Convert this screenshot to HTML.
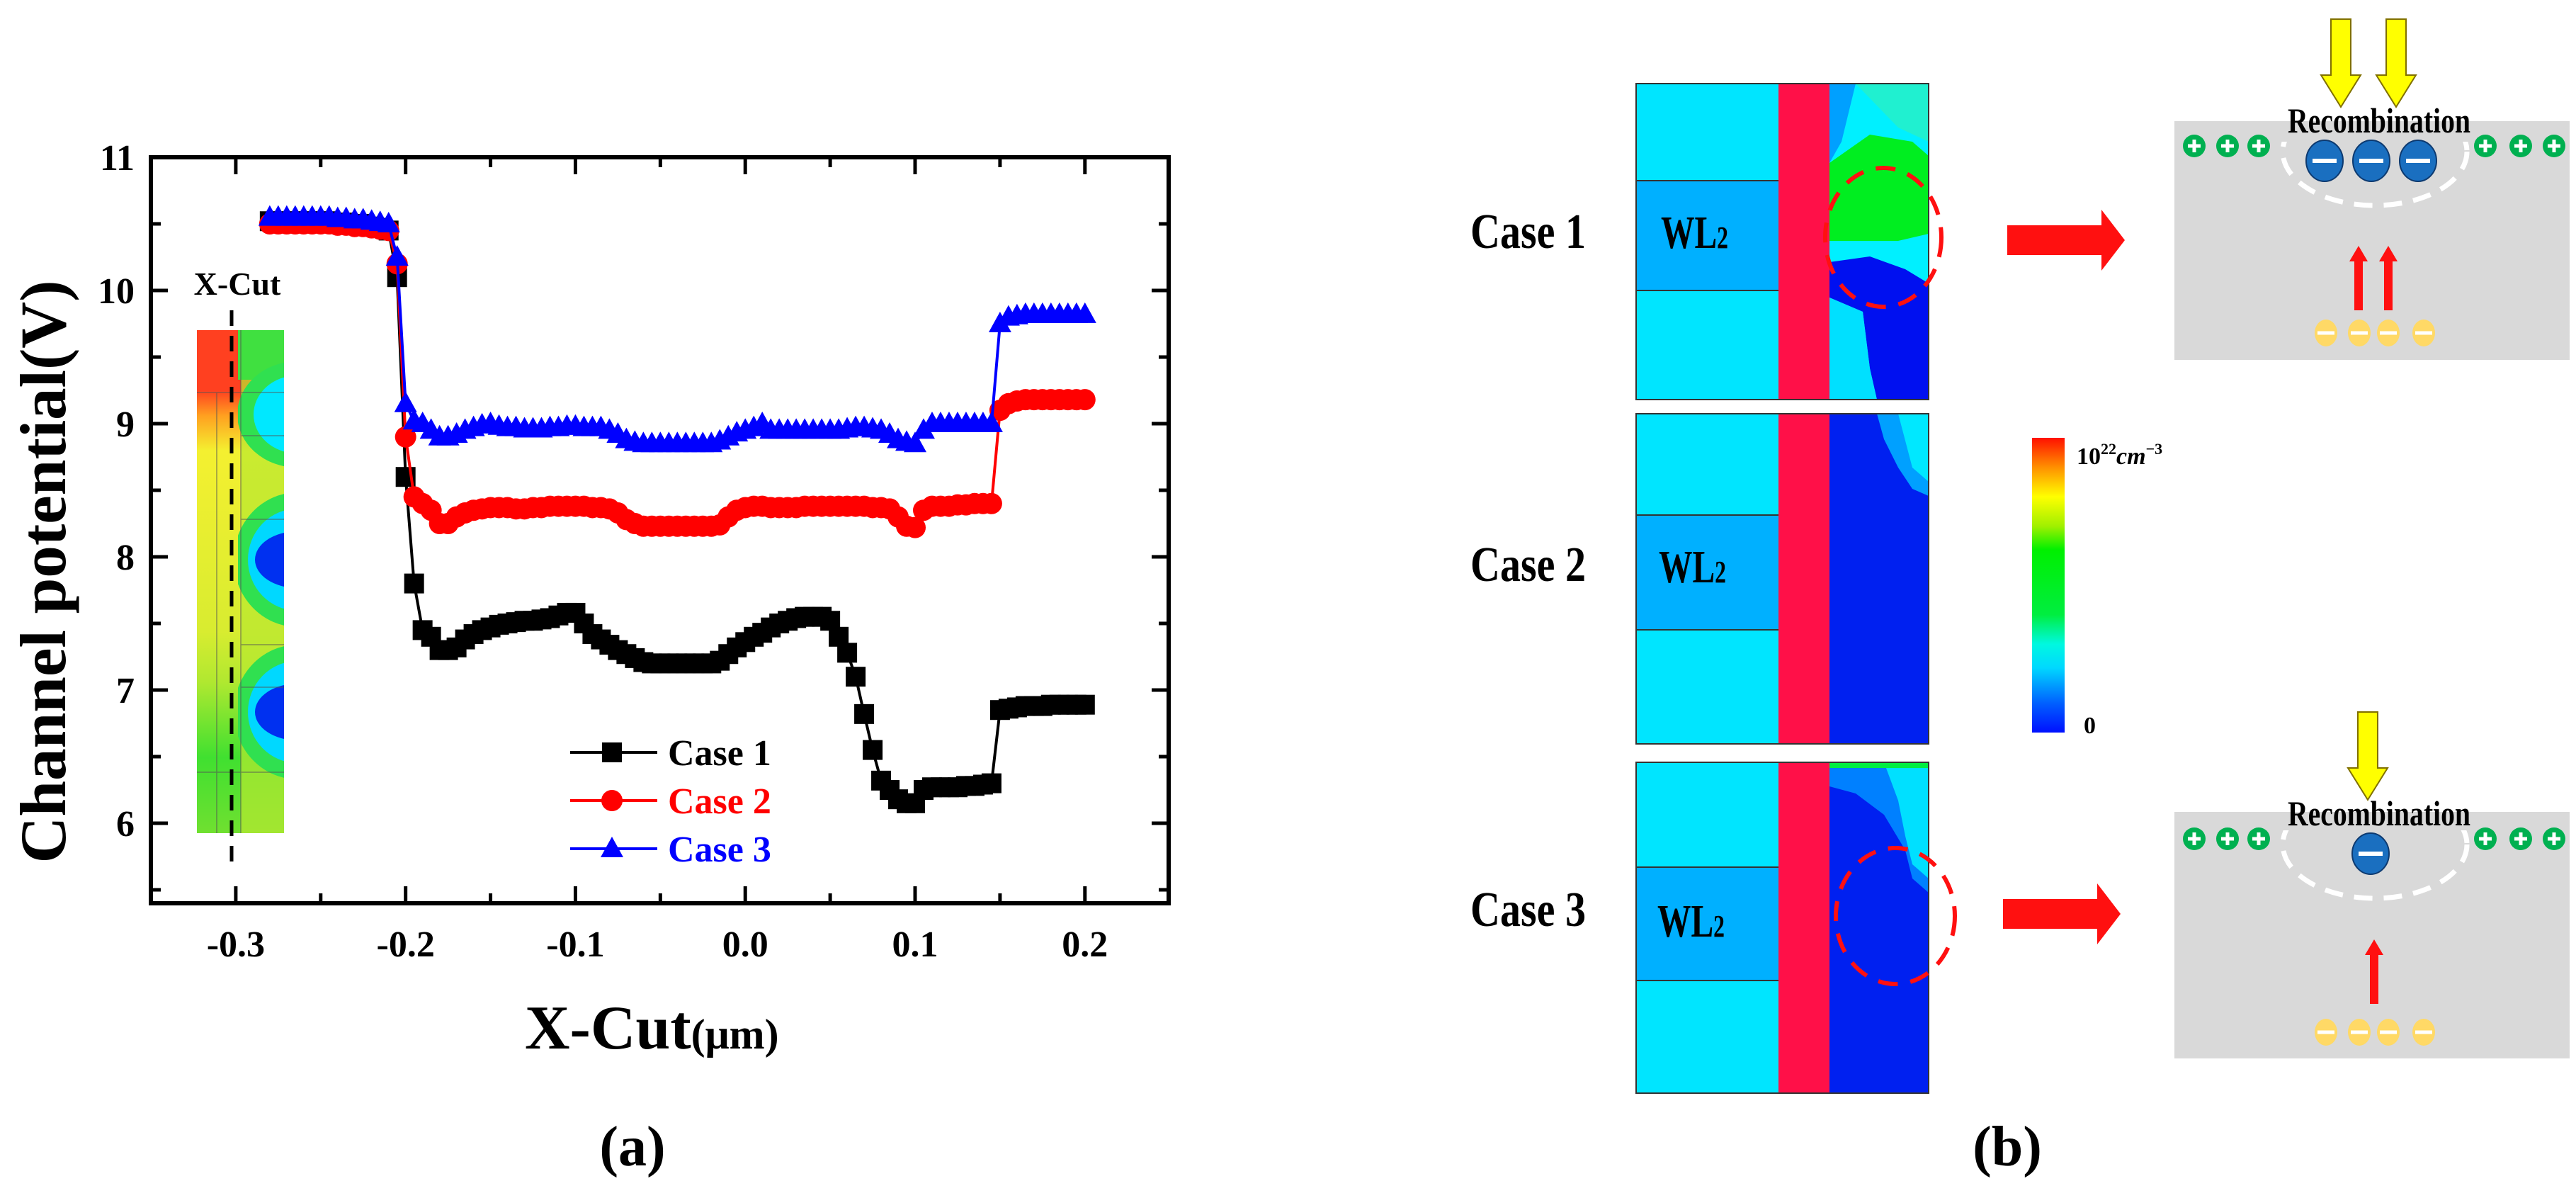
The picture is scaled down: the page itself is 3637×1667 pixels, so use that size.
<!DOCTYPE html>
<html><head><meta charset="utf-8"><style>
html,body{margin:0;padding:0;background:#fff}
svg{display:block}
text{font-family:"Liberation Serif",serif;font-weight:bold}
</style></head><body>
<svg id="fig" width="3637" height="1667" viewBox="0 0 3637 1667" xmlns="http://www.w3.org/2000/svg">
<rect width="3637" height="1667" fill="#fff"/>
<!-- Panel (a) -->
<g id="panelA">
  <g id="inset">
    <defs>
      <clipPath id="insetClip"><rect x="278" y="466" width="123" height="710"/></clipPath>
      <clipPath id="rightColClip"><rect x="336" y="466" width="65" height="710"/></clipPath>
      <linearGradient id="leftcol" x1="0" y1="0" x2="0" y2="1">
        <stop offset="0" stop-color="#ff4020"/><stop offset="0.12" stop-color="#ff4020"/>
        <stop offset="0.17" stop-color="#ffa020"/><stop offset="0.24" stop-color="#f4f030"/>
        <stop offset="0.6" stop-color="#d8ec30"/><stop offset="0.7" stop-color="#b0e830"/>
        <stop offset="0.85" stop-color="#40e030"/><stop offset="1" stop-color="#70e030"/>
      </linearGradient>
    </defs>
    <g clip-path="url(#insetClip)">
      <rect x="278" y="466" width="123" height="710" fill="url(#leftcol)"/>
      <rect x="340" y="466" width="61" height="710" fill="#b8e830" opacity="0.7"/>
    </g>
    <g clip-path="url(#rightColClip)">
      <rect x="336" y="466" width="65" height="70" fill="#40e040"/>
      <ellipse cx="420" cy="585" rx="85" ry="75" fill="#30e050"/>
      <ellipse cx="420" cy="585" rx="62" ry="55" fill="#00e8ff"/>
      <ellipse cx="420" cy="790" rx="90" ry="95" fill="#30e050"/>
      <ellipse cx="420" cy="790" rx="70" ry="72" fill="#00d8ff"/>
      <ellipse cx="420" cy="790" rx="60" ry="40" fill="#0030f0"/>
      <ellipse cx="420" cy="1005" rx="90" ry="95" fill="#30e050"/>
      <ellipse cx="420" cy="1005" rx="70" ry="72" fill="#00d8ff"/>
      <ellipse cx="420" cy="1005" rx="60" ry="40" fill="#0030f0"/>
    </g>
    <g stroke="#555" stroke-width="1.5" fill="none" opacity="0.6">
      <line x1="306" y1="554" x2="306" y2="1176"/><line x1="340" y1="466" x2="340" y2="1176"/>
      <line x1="278" y1="554" x2="401" y2="554"/><line x1="340" y1="615" x2="401" y2="615"/>
      <line x1="340" y1="733" x2="401" y2="733"/><line x1="340" y1="910" x2="401" y2="910"/>
      <line x1="340" y1="970" x2="401" y2="970"/><line x1="278" y1="1090" x2="401" y2="1090"/>
    </g>
    <line x1="327" y1="438" x2="327" y2="1224" stroke="#000" stroke-width="5" stroke-dasharray="22,14"/>
    <text x="335" y="416" font-size="46" text-anchor="middle">X-Cut</text>
  </g>
  <g id="axes"></g>
  <g id="series"></g>
  <rect x="213" y="222" width="1437" height="1053" fill="none" stroke="#000" stroke-width="6"/>
  <text transform="translate(92,807) rotate(-90)" font-size="92" text-anchor="middle" textLength="823" lengthAdjust="spacingAndGlyphs">Channel potential(V)</text>
  <text x="741" y="1480" font-size="88">X-Cut<tspan font-size="60">(μm)</tspan></text>
  <text x="893" y="1645" font-size="80" text-anchor="middle" font-weight="normal">(<tspan font-weight="bold">a</tspan>)</text>
  <g id="legend"></g>
</g>

<!-- Panel (b) -->
<g id="panelB">
  <defs>
    <clipPath id="c1"><rect x="2583" y="118" width="140" height="446"/></clipPath>
    <clipPath id="c2"><rect x="2583" y="584" width="140" height="466"/></clipPath>
    <clipPath id="c3"><rect x="2583" y="1076" width="140" height="467"/></clipPath>
    <clipPath id="ell1"><rect x="3150" y="200" width="400" height="200"/></clipPath>
    <clipPath id="ell3"><rect x="3150" y="1172" width="400" height="200"/></clipPath>
    <linearGradient id="cbar" x1="0" y1="1" x2="0" y2="0">
      <stop offset="0" stop-color="#0010ff"/><stop offset="0.1" stop-color="#0060ff"/>
      <stop offset="0.22" stop-color="#00d8ff"/><stop offset="0.3" stop-color="#00f8e0"/>
      <stop offset="0.4" stop-color="#00ee40"/><stop offset="0.62" stop-color="#00f000"/>
      <stop offset="0.7" stop-color="#a0f000"/><stop offset="0.8" stop-color="#ffff00"/>
      <stop offset="0.9" stop-color="#ff9000"/><stop offset="1" stop-color="#ff1000"/>
    </linearGradient>
  </defs>
  <g>
    <rect x="2310" y="118" width="201" height="446" fill="#00e5ff"/>
    <rect x="2310" y="255" width="201" height="155" fill="#00b0ff"/>
    <line x1="2310" y1="255" x2="2511" y2="255" stroke="#333" stroke-width="2"/>
    <line x1="2310" y1="410" x2="2511" y2="410" stroke="#333" stroke-width="2"/>
    <rect x="2511" y="118" width="72" height="446" fill="#ff1048"/>
    <g clip-path="url(#c1)">
      <rect x="2583" y="118" width="140" height="446" fill="#00f0ff"/>
      <polygon points="2583,118 2620,118 2600,200 2583,230" fill="#00a0ff"/>
      <polygon points="2620,118 2723,118 2723,200 2680,180" fill="#20f0d0"/>
      <polygon points="2583,230 2640,190 2700,200 2723,220 2723,330 2680,340 2583,340" fill="#00ee20"/>
      <polygon points="2583,370 2640,362 2690,380 2723,400 2723,564 2650,564 2640,520 2630,440 2583,420" fill="#0010f0"/>
      <polygon points="2583,420 2630,440 2640,520 2650,564 2583,564" fill="#00e0ff"/>
    </g>
    <rect x="2310" y="118" width="413" height="446" fill="none" stroke="#333" stroke-width="2"/>
    <ellipse cx="2659" cy="335" rx="82" ry="98" fill="none" stroke="#ff1010" stroke-width="6" stroke-dasharray="28,18"/>
  </g>
  <g>
    <rect x="2310" y="584" width="201" height="466" fill="#00e5ff"/>
    <rect x="2310" y="727" width="201" height="162" fill="#00b0ff"/>
    <line x1="2310" y1="727" x2="2511" y2="727" stroke="#333" stroke-width="2"/>
    <line x1="2310" y1="889" x2="2511" y2="889" stroke="#333" stroke-width="2"/>
    <rect x="2511" y="584" width="72" height="466" fill="#ff1048"/>
    <g clip-path="url(#c2)">
      <rect x="2583" y="584" width="140" height="466" fill="#0020f0"/>
      <polygon points="2650,584 2723,584 2723,700 2700,690 2680,660 2660,620" fill="#00a0ff"/>
      <polygon points="2680,584 2723,584 2723,680 2700,660" fill="#00e8ff"/>
    </g>
    <rect x="2310" y="584" width="413" height="466" fill="none" stroke="#333" stroke-width="2"/>
  </g>
  <g>
    <rect x="2310" y="1076" width="201" height="467" fill="#00e5ff"/>
    <rect x="2310" y="1224" width="201" height="160" fill="#00b0ff"/>
    <line x1="2310" y1="1224" x2="2511" y2="1224" stroke="#333" stroke-width="2"/>
    <line x1="2310" y1="1384" x2="2511" y2="1384" stroke="#333" stroke-width="2"/>
    <rect x="2511" y="1076" width="72" height="467" fill="#ff1048"/>
    <g clip-path="url(#c3)">
      <rect x="2583" y="1076" width="140" height="467" fill="#0020f0"/>
      <polygon points="2583,1076 2723,1076 2723,1260 2700,1240 2690,1200 2660,1150 2620,1120 2583,1110" fill="#0080ff"/>
      <polygon points="2660,1076 2723,1076 2723,1240 2700,1220 2690,1180 2680,1130" fill="#00e0ff"/>
      <rect x="2583" y="1076" width="140" height="8" fill="#00ee40"/>
    </g>
    <rect x="2310" y="1076" width="413" height="467" fill="none" stroke="#333" stroke-width="2"/>
    <ellipse cx="2676" cy="1293" rx="84" ry="96" fill="none" stroke="#ff1010" stroke-width="6" stroke-dasharray="28,18"/>
  </g>
  <g font-size="70">
    <text x="2076" y="350" textLength="163" lengthAdjust="spacingAndGlyphs">Case 1</text>
    <text x="2076" y="820" textLength="163" lengthAdjust="spacingAndGlyphs">Case 2</text>
    <text x="2076" y="1307" textLength="163" lengthAdjust="spacingAndGlyphs">Case 3</text>
  </g>
  <g font-size="66">
    <text x="2345" y="350" textLength="95" lengthAdjust="spacingAndGlyphs">WL<tspan font-size="44">2</tspan></text>
    <text x="2342" y="822" textLength="95" lengthAdjust="spacingAndGlyphs">WL<tspan font-size="44">2</tspan></text>
    <text x="2340" y="1322" textLength="95" lengthAdjust="spacingAndGlyphs">WL<tspan font-size="44">2</tspan></text>
  </g>
  <g>
    <rect x="2869" y="618" width="46" height="416" fill="url(#cbar)"/>
    <text x="2932" y="655" font-size="34" font-weight="normal">10<tspan dy="-14" font-size="22">22</tspan><tspan dy="14" font-style="italic" font-size="34">cm</tspan><tspan dy="-14" font-size="22">−3</tspan></text>
    <text x="2942" y="1035" font-size="34" font-weight="normal">0</text>
  </g>
  <polygon points="2834,318 2967,318 2967,296 3000,339 2967,382 2967,360 2834,360" fill="#ff1010"/>
  <polygon points="2828,1269 2961,1269 2961,1247 2994,1290 2961,1333 2961,1311 2828,1311" fill="#ff1010"/>
  <g id="sch1"></g>
  <g id="sch3"></g>
  <text x="2834" y="1645" font-size="80" text-anchor="middle" font-weight="normal">(<tspan font-weight="bold">b</tspan>)</text>
</g>
</svg>
<script>
const xs = [-0.280,-0.275,-0.270,-0.265,-0.260,-0.255,-0.250,-0.245,-0.240,-0.235,-0.230,-0.225,-0.220,-0.215,-0.210,-0.205,-0.200,-0.195,-0.190,-0.185,-0.180,-0.175,-0.170,-0.165,-0.160,-0.155,-0.150,-0.145,-0.140,-0.135,-0.130,-0.125,-0.120,-0.115,-0.110,-0.105,-0.100,-0.095,-0.090,-0.085,-0.080,-0.075,-0.070,-0.065,-0.060,-0.055,-0.050,-0.045,-0.040,-0.035,-0.030,-0.025,-0.020,-0.015,-0.010,-0.005,0.000,0.005,0.010,0.015,0.020,0.025,0.030,0.035,0.040,0.045,0.050,0.055,0.060,0.065,0.070,0.075,0.080,0.085,0.090,0.095,0.100,0.105,0.110,0.115,0.120,0.125,0.130,0.135,0.140,0.145,0.150,0.155,0.160,0.165,0.170,0.175,0.180,0.185,0.190,0.195,0.200];
const case1 = [10.52,10.52,10.52,10.52,10.52,10.52,10.52,10.52,10.51,10.51,10.50,10.50,10.48,10.47,10.45,10.10,8.60,7.80,7.45,7.40,7.30,7.30,7.32,7.38,7.42,7.45,7.47,7.49,7.50,7.51,7.52,7.52,7.53,7.54,7.56,7.58,7.58,7.50,7.42,7.38,7.34,7.30,7.27,7.24,7.21,7.20,7.20,7.20,7.20,7.20,7.20,7.20,7.20,7.22,7.27,7.32,7.36,7.40,7.43,7.47,7.50,7.52,7.54,7.55,7.55,7.55,7.52,7.40,7.28,7.10,6.82,6.55,6.32,6.25,6.18,6.15,6.15,6.25,6.27,6.27,6.27,6.27,6.28,6.28,6.29,6.30,6.85,6.86,6.87,6.88,6.88,6.88,6.89,6.89,6.89,6.89,6.89];
const case2 = [10.50,10.50,10.50,10.50,10.50,10.50,10.50,10.50,10.49,10.49,10.48,10.48,10.47,10.46,10.45,10.20,8.90,8.45,8.40,8.35,8.25,8.25,8.30,8.33,8.35,8.36,8.37,8.37,8.37,8.36,8.36,8.37,8.37,8.38,8.38,8.38,8.38,8.38,8.37,8.37,8.36,8.33,8.28,8.25,8.23,8.23,8.23,8.23,8.23,8.23,8.23,8.23,8.23,8.24,8.30,8.35,8.37,8.38,8.38,8.37,8.37,8.37,8.37,8.38,8.38,8.38,8.38,8.38,8.38,8.38,8.38,8.37,8.37,8.36,8.30,8.23,8.22,8.35,8.38,8.38,8.38,8.39,8.39,8.40,8.40,8.40,9.10,9.15,9.17,9.18,9.18,9.18,9.18,9.18,9.18,9.18,9.18];
const case3 = [10.55,10.55,10.55,10.55,10.55,10.55,10.55,10.55,10.54,10.54,10.53,10.53,10.52,10.51,10.50,10.25,9.15,9.02,9.00,8.95,8.90,8.90,8.92,8.95,8.97,8.99,9.00,8.98,8.97,8.97,8.96,8.96,8.96,8.97,8.97,8.98,8.98,8.97,8.97,8.97,8.95,8.92,8.88,8.86,8.85,8.85,8.85,8.85,8.85,8.85,8.85,8.85,8.85,8.87,8.90,8.93,8.95,8.97,9.00,8.95,8.95,8.95,8.95,8.95,8.95,8.95,8.95,8.95,8.96,8.97,8.97,8.96,8.95,8.92,8.88,8.86,8.85,8.95,9.00,9.00,9.00,9.00,9.00,9.00,9.00,9.00,9.75,9.80,9.81,9.82,9.82,9.82,9.82,9.82,9.82,9.82,9.82];
const xTickLabels = ["-0.3","-0.2","-0.1","0.0","0.1","0.2"];
const xTickValues = [-0.3,-0.2,-0.1,0.0,0.1,0.2];
const yTickLabels = ["6","7","8","9","10","11"];
const yTickValues = [6,7,8,9,10,11];
const legendNames = ["Case 1","Case 2","Case 3"];

const NS = "http://www.w3.org/2000/svg";
const X0 = 213, X1 = 1650, Y0 = 222, Y1 = 1275;
const xMin = -0.35, xMax = 0.2493, yMin = 5.399, yMax = 11;
function sx(v){ return X0 + (v - xMin) / (xMax - xMin) * (X1 - X0); }
function sy(v){ return Y0 + (yMax - v) / (yMax - yMin) * (Y1 - Y0); }
function mk(tag, attrs, parent){
  const e = document.createElementNS(NS, tag);
  for (const k in attrs) e.setAttribute(k, attrs[k]);
  parent.appendChild(e);
  return e;
}
const axes = document.getElementById("axes");
for (let i = -7; i <= 4; i++) {
  const v = i * 0.05;
  const major = i % 2 === 0;
  const L = major ? 24 : 14;
  const t1 = mk("line", {x1:sx(v), x2:sx(v), y1:Y1, y2:Y1-L, stroke:"#000", "stroke-width":5}, axes);
  
  
  const t2 = mk("line", {x1:sx(v), x2:sx(v), y1:Y0, y2:Y0+L, stroke:"#000", "stroke-width":5}, axes);
  
  
}
xTickValues.forEach((v, i) => {
  const t = mk("text", {x:sx(v), y:1350, "font-size":52, "text-anchor":"middle"}, axes);
  t.textContent = xTickLabels[i];
  
  
});
for (let v = 5.5; v <= 11; v += 0.5) {
  const major = Math.abs(v - Math.round(v)) < 1e-6;
  const L = major ? 24 : 14;
  const a = mk("line", {x1:X0, x2:X0+L, y1:sy(v), y2:sy(v), stroke:"#000", "stroke-width":5}, axes);
  
  
  const b = mk("line", {x1:X1, x2:X1-L, y1:sy(v), y2:sy(v), stroke:"#000", "stroke-width":5}, axes);
  
  
}
yTickValues.forEach((v, i) => {
  const t = mk("text", {x:190, y:sy(v)+18, "font-size":52, "text-anchor":"end"}, axes);
  t.textContent = yTickLabels[i];
  
  
});

function marker(parent, type, cx, cy, color){
  let e;
  if (type === 0) e = mk("rect", {x:cx-14, y:cy-14, width:28, height:28, fill:color}, parent);
  else if (type === 1) e = mk("circle", {cx:cx, cy:cy, r:15, fill:color}, parent);
  else e = mk("polygon", {points:`${cx},${cy-17} ${cx+16},${cy+12} ${cx-16},${cy+12}`, fill:color}, parent);
  return e;
}
const seriesG = document.getElementById("series");
const allSeries = [case1, case2, case3];
const colors = ["#000", "#ff0000", "#0000ff"];
allSeries.forEach((vals, s) => {
  const g = mk("g", {}, seriesG);
  
  
  const pts = xs.map((x, i) => sx(x) + "," + sy(vals[i])).join(" ");
  const pl = mk("polyline", {points:pts, fill:"none", stroke:colors[s], "stroke-width":4}, g);
  
  
  xs.forEach((x, i) => {
    const m = marker(g, s, sx(x), sy(vals[i]), colors[s]);
    
    
  });
});
const lg = document.getElementById("legend");
legendNames.forEach((n, i) => {
  const y = 1062 + i * 68;
  const l = mk("line", {x1:805, x2:928, y1:y, y2:y, stroke:colors[i], "stroke-width":4}, lg);
  
  
  const m = marker(lg, i, 864, y, colors[i]);
  
  
  const t = mk("text", {x:943, y:y+18, "font-size":52, fill:colors[i]}, lg);
  t.textContent = n;
  
  
});

function schematic(g, y0, h, yellowXs, electronXs, redXs, textY, clipId){
  mk("rect", {x:3070, y:y0, width:558, height:h, fill:"#d9d9d9"}, g);
  yellowXs.forEach(x => {
    const top = textY - 144, bot = textY - 20;
    mk("polygon", {points:`${x-14},${top} ${x+14},${top} ${x+14},${bot-45} ${x+28},${bot-45} ${x},${bot} ${x-28},${bot-45} ${x-14},${bot-45}`, fill:"#ffff00", stroke:"#807000", "stroke-width":2}, g);
  });
  const t = mk("text", {x:3359, y:textY+16, "font-size":50, "text-anchor":"middle", textLength:258, lengthAdjust:"spacingAndGlyphs"}, g);
  t.textContent = "Recombination";
  
  
  const py = textY + 35;
  [3098,3145,3189,3509,3559,3606].forEach(x => {
    mk("circle", {cx:x, cy:py, r:16, fill:"#00b050"}, g);
    mk("path", {d:`M${x-9},${py} H${x+9} M${x},${py-9} V${py+9}`, stroke:"#fff", "stroke-width":5}, g);
  });
  mk("ellipse", {cx:3353, cy:py+8, rx:130, ry:76, fill:"none", stroke:"#fff", "stroke-width":7, "stroke-dasharray":"26,16", "clip-path":`url(#${clipId})`}, g);
  electronXs.forEach(x => {
    mk("ellipse", {cx:x, cy:py+21, rx:26, ry:29, fill:"#1a6fc0", stroke:"#0d3a70", "stroke-width":2}, g);
    mk("line", {x1:x-17, x2:x+17, y1:py+21, y2:py+21, stroke:"#fff", "stroke-width":6}, g);
  });
  const ra = y0 + (y0 < 500 ? 176 : 180);
  redXs.forEach(x => {
    mk("polygon", {points:`${x-6},${ra+91} ${x+6},${ra+91} ${x+6},${ra+22} ${x+13},${ra+22} ${x},${ra} ${x-13},${ra+22} ${x-6},${ra+22}`, fill:"#ff1010"}, g);
  });
  const hy = y0 + (y0 < 500 ? 299 : 311);
  [3284,3331,3372,3422].forEach(x => {
    mk("ellipse", {cx:x, cy:hy, rx:16, ry:19, fill:"#ffd966"}, g);
    mk("line", {x1:x-12, x2:x+12, y1:hy, y2:hy, stroke:"#fff", "stroke-width":5}, g);
  });
}
schematic(document.getElementById("sch1"), 171, 337, [3305,3383], [3282,3348,3414], [3330,3372], 171, "ell1");
schematic(document.getElementById("sch3"), 1146, 348, [3343], [3347], [3352], 1149, "ell3");
</script>
</body></html>
